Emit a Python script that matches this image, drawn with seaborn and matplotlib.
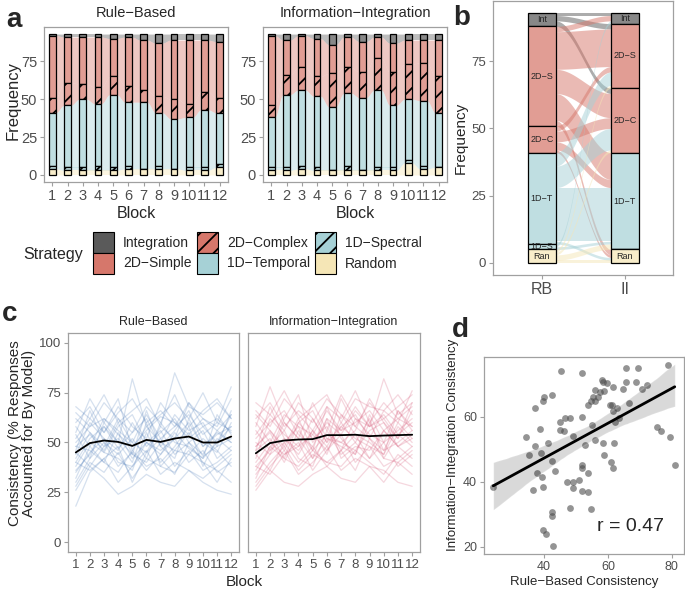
import numpy as np
import pandas as pd
import matplotlib
matplotlib.use("Agg")
import matplotlib.pyplot as plt
from matplotlib.patches import Rectangle
import seaborn as sns

sns.set_theme(style="ticks")
plt.rcParams['font.family'] = ['Liberation Sans', 'DejaVu Sans']
plt.rcParams['hatch.linewidth'] = 1.3

W, H = 685, 589

# ---- data -------------------------------------------------------------
blocks = list(range(1, 13))
strat_labels = ["Integration", "2D\u2212Simple", "2D\u2212Complex",
                "1D\u2212Temporal", "1D\u2212Spectral", "Random"]
strat_short = ["Int", "2D\u2212S", "2D\u2212C", "1D\u2212T", "1D\u2212S", "Ran"]
strat_colors = ["#5A5A5A", "#D6776B", "#D6776B", "#A6D1D6", "#A6D1D6", "#F5E6B6"]
strat_hatch = [None, None, "//", None, "//", None]

# panel a: counts per block (stacking order top -> bottom)
rb_int = [1, 2, 2, 2, 3, 2, 4, 6, 4, 4, 4, 5]
rb_2ds = [41, 30, 31, 33, 25, 32, 33, 35, 39, 42, 34, 37]
rb_2dc = [10, 15, 10, 11, 12, 11, 8, 11, 13, 9, 12, 10]
rb_1dt = [35, 41, 45, 41, 48, 42, 44, 35, 33, 33, 38, 34]
rb_1ds = [2, 2, 2, 3, 2, 2, 0, 2, 0, 2, 2, 2]
rb_ran = [4, 3, 3, 3, 3, 4, 4, 4, 4, 3, 3, 5]

ii_int = [1, 4, 1, 3, 7, 2, 5, 2, 6, 4, 4, 4]
ii_2ds = [46, 23, 21, 25, 19, 20, 20, 14, 19, 16, 15, 24]
ii_2dc = [8, 13, 15, 13, 22, 17, 17, 21, 22, 23, 25, 24]
ii_1dt = [33, 48, 50, 47, 42, 48, 48, 51, 41, 40, 43, 36]
ii_1ds = [2, 2, 2, 2, 0, 3, 0, 2, 2, 2, 2, 0]
ii_ran = [3, 3, 4, 3, 3, 3, 3, 3, 3, 8, 4, 5]

# panel b: RB strategy (rows) -> II strategy (cols), order Int,2DS,2DC,1DT,1DS,Ran
trans_int = [1, 2, 2, 0, 0, 0]
trans_2ds = [2, 14, 9, 10, 0, 2]
trans_2dc = [0, 2, 4, 3, 0, 1]
trans_1dt = [0, 5, 8, 20, 0, 1]
trans_1ds = [1, 0, 0, 1, 0, 0]
trans_ran = [0, 1, 1, 2, 0, 1]

# panel c: consistency per block
rb_mean = [45, 49.7, 51, 50.3, 48.3, 51.3, 50.3, 52, 53, 50, 50, 53]
ii_mean = [44.6, 49.7, 51, 51.5, 51.7, 53.7, 53.7, 53.9, 53.2, 53.5, 53.7, 53.9]
rb_subjects = [
    [42, 55, 48, 62, 50, 45, 58, 52, 60, 48, 55, 50],
    [35, 45, 52, 40, 38, 50, 44, 55, 47, 42, 50, 58],
    [60, 68, 55, 65, 72, 60, 66, 58, 70, 62, 56, 64],
    [28, 40, 35, 45, 32, 42, 38, 35, 44, 40, 30, 42],
    [50, 58, 62, 54, 48, 56, 63, 60, 52, 58, 62, 55],
    [45, 38, 48, 52, 44, 40, 50, 46, 55, 43, 48, 52],
    [55, 72, 60, 50, 82, 58, 64, 70, 62, 75, 60, 78],
    [40, 52, 58, 47, 55, 62, 48, 56, 66, 50, 45, 60],
    [18, 35, 42, 30, 38, 46, 34, 40, 36, 32, 38, 44],
    [65, 58, 70, 62, 55, 68, 60, 74, 58, 66, 72, 62],
    [48, 46, 40, 55, 42, 50, 56, 44, 50, 56, 42, 48],
    [38, 50, 45, 42, 36, 55, 40, 48, 58, 38, 52, 46],
    [52, 62, 55, 68, 58, 52, 70, 60, 54, 62, 58, 72],
    [30, 42, 50, 38, 45, 36, 44, 52, 40, 46, 35, 40],
    [58, 48, 62, 56, 50, 64, 52, 58, 64, 54, 60, 56],
    [44, 60, 52, 46, 60, 48, 55, 62, 50, 44, 56, 50],
    [62, 55, 45, 58, 64, 50, 46, 52, 70, 58, 50, 64],
    [36, 44, 58, 50, 40, 60, 38, 46, 44, 52, 46, 38],
    [46, 66, 50, 44, 52, 42, 60, 50, 48, 42, 64, 54],
    [54, 42, 60, 72, 46, 58, 50, 64, 56, 60, 48, 66],
    [40, 36, 42, 48, 30, 45, 52, 38, 46, 36, 40, 46],
    [68, 62, 74, 60, 66, 72, 58, 85, 68, 64, 70, 62],
    [32, 48, 40, 35, 46, 38, 42, 34, 50, 40, 36, 30],
    [48, 54, 46, 60, 44, 66, 48, 42, 62, 48, 54, 58],
    [26, 38, 32, 24, 28, 34, 30, 28, 36, 30, 26, 24],
]
ii_subjects = [
    [48, 55, 42, 60, 52, 58, 46, 62, 54, 50, 66, 58],
    [38, 46, 52, 44, 56, 48, 60, 50, 42, 56, 48, 52],
    [62, 70, 58, 66, 60, 72, 64, 58, 70, 62, 68, 74],
    [30, 40, 48, 36, 44, 40, 38, 46, 40, 34, 44, 38],
    [52, 60, 66, 54, 48, 62, 56, 68, 58, 64, 54, 60],
    [44, 36, 50, 58, 42, 52, 48, 44, 60, 46, 50, 56],
    [58, 78, 60, 52, 70, 56, 74, 62, 58, 82, 64, 70],
    [40, 50, 44, 48, 54, 46, 58, 52, 48, 44, 58, 50],
    [28, 38, 46, 34, 40, 48, 36, 42, 38, 30, 40, 46],
    [66, 58, 72, 64, 56, 68, 62, 76, 60, 70, 62, 68],
    [46, 52, 40, 56, 46, 54, 50, 46, 56, 60, 48, 54],
    [36, 48, 56, 42, 38, 56, 44, 50, 62, 42, 54, 48],
    [54, 64, 56, 70, 62, 50, 72, 58, 52, 66, 60, 76],
    [34, 44, 50, 40, 48, 38, 46, 54, 42, 50, 38, 44],
    [60, 50, 64, 58, 54, 66, 56, 60, 66, 56, 62, 58],
    [42, 62, 54, 48, 62, 50, 58, 64, 52, 46, 60, 52],
    [64, 56, 46, 60, 66, 52, 50, 56, 72, 60, 52, 66],
    [50, 44, 60, 52, 42, 62, 42, 48, 46, 56, 48, 42],
    [46, 68, 52, 46, 56, 44, 64, 54, 50, 44, 66, 56],
    [56, 46, 62, 74, 50, 60, 54, 66, 58, 62, 52, 70],
    [38, 34, 44, 50, 36, 46, 54, 40, 48, 38, 42, 48],
    [70, 64, 76, 62, 68, 74, 60, 72, 68, 66, 74, 64],
    [32, 48, 42, 38, 46, 40, 46, 36, 52, 42, 40, 34],
    [48, 56, 48, 62, 46, 68, 52, 44, 64, 50, 56, 62],
    [26, 36, 30, 28, 34, 38, 32, 30, 38, 36, 30, 28],
]

# panel d: per-subject consistency
rb_cons = [24.1, 45.3, 51.8, 37.3, 39.7, 40.1, 42.4, 46.4, 48.2, 45.1, 45.0, 46.1,
           38.6, 34.5, 49.0, 51.8, 37.3, 41.2, 35.2, 39.0, 42.6, 43.4, 37.8, 39.3,
           51.8, 51.8, 47.2, 49.0, 51.0, 36.6, 39.7, 49.0, 51.8, 42.4, 42.4, 48.2,
           39.7, 40.5, 42.7,
           65.5, 69.3, 78.9, 58.2, 58.4, 59.6, 65.5, 68.7, 72.1, 61.7, 64.8, 70.5,
           55.8, 57.4, 58.9, 55.3, 56.9, 56.0, 54.6, 53.6, 60.5, 61.2, 66.7, 62.7,
           61.5, 62.2, 63.6, 54.9, 75.4, 76.6, 79.4, 52.9, 55.8, 58.3, 61.9, 58.8,
           60.9, 61.7, 80.9, 53.9, 53.9, 54.6]
ii_cons = [38.5, 74.2, 73.6, 62.8, 64.8, 66.0, 66.7, 59.7, 59.7, 58.5, 55.8, 55.5,
           56.1, 53.8, 54.0, 60.0, 51.1, 51.8, 48.2, 49.0, 46.3, 43.2, 42.7, 41.5,
           45.1, 44.3, 40.0, 40.0, 40.7, 37.4, 38.5, 38.0, 37.1, 30.8, 29.4, 32.0,
           25.1, 24.1, 20.4,
           75.0, 75.0, 76.0, 71.3, 70.6, 70.4, 70.8, 70.8, 69.8, 69.3, 68.7, 68.6,
           68.1, 67.5, 68.0, 66.0, 66.0, 65.0, 64.8, 63.5, 63.7, 63.5, 64.3, 62.8,
           61.7, 58.3, 59.7, 57.6, 56.8, 55.6, 53.8, 51.2, 53.0, 51.9, 51.9, 48.4,
           46.1, 44.3, 45.3, 42.8, 36.8, 31.6]


# ---- helpers ------------------------------------------------------------
def px(l, t, r, b):
    return [l / W, 1 - b / H, (r - l) / W, (b - t) / H]


def lighten(c, a=0.72):
    rgb = np.array(matplotlib.colors.to_rgb(c))
    return tuple(rgb * a + (1 - a))


def style(ax, size=10):
    for s in ax.spines.values():
        s.set_color("#A0A0A0")
        s.set_linewidth(0.9)
    ax.tick_params(colors="#A0A0A0", labelcolor="#4D4D4D", length=3, width=0.8,
                   labelsize=size, pad=2)
    ax.set_xlabel("")
    ax.set_ylabel("")


def smooth(n=40):
    t = np.linspace(0, 1, n)
    return t, (1 - np.cos(np.pi * t)) / 2


def alluvial(ax, counts, w=0.45):
    arr = np.array(counts, dtype=float)       # 6 x 12, top->bottom
    tops = 93 - np.vstack([np.zeros(arr.shape[1]), np.cumsum(arr, axis=0)[:-1]])
    bots = tops - arr
    t, s = smooth()
    for j in range(arr.shape[1] - 1):
        x0, x1 = blocks[j] + w / 2, blocks[j + 1] - w / 2
        xs = x0 + (x1 - x0) * t
        for k in range(6):
            lo = bots[k, j] + (bots[k, j + 1] - bots[k, j]) * s
            hi = tops[k, j] + (tops[k, j + 1] - tops[k, j]) * s
            ax.fill_between(xs, lo, hi, color=strat_colors[k], alpha=0.4, lw=0)
    for k in range(6):
        ax.bar(blocks, arr[k], bottom=bots[k], width=w, color=lighten(strat_colors[k]),
               edgecolor="black", linewidth=0.9, hatch=strat_hatch[k])
    ax.set_xlim(0.45, 12.55)
    ax.set_ylim(-4.65, 97.65)
    ax.set_xticks(blocks)
    ax.set_yticks([0, 25, 50, 75])
    style(ax, 10.5)


fig = plt.figure(figsize=(W / 100, H / 100), dpi=100)

# ---- panel a --------------------------------------------------------------
a1 = fig.add_axes(px(44, 27, 228, 182))
alluvial(a1, [rb_int, rb_2ds, rb_2dc, rb_1dt, rb_1ds, rb_ran])
a2 = fig.add_axes(px(263, 27, 447, 182))
alluvial(a2, [ii_int, ii_2ds, ii_2dc, ii_1dt, ii_1ds, ii_ran])

# ---- panel b --------------------------------------------------------------
b = fig.add_axes(px(493, 1, 673, 275))
T = np.array([trans_int, trans_2ds, trans_2dc, trans_1dt, trans_1ds, trans_ran], dtype=float)
rb_tot, ii_tot = T.sum(axis=1), T.sum(axis=0)
rb_top = 93 - np.concatenate([[0], np.cumsum(rb_tot)[:-1]])
ii_top = 93 - np.concatenate([[0], np.cumsum(ii_tot)[:-1]])
bw = 0.33
t, s = smooth()
xs = (1 + bw / 2) + (1 - bw) * t
# incoming position on II side ordered by source
ii_start = np.zeros((6, 6))
for jj in range(6):
    cur = ii_top[jj]
    for ii in range(6):
        ii_start[ii, jj] = cur
        cur -= T[ii, jj]
for ii in range(6):
    cur = rb_top[ii]
    for jj in range(6):
        n = T[ii, jj]
        if n == 0:
            continue
        hi = cur + (ii_start[ii, jj] - cur) * s
        b.fill_between(xs, hi - n, hi, color=strat_colors[ii], alpha=0.5, lw=0)
        cur -= n
for k in range(6):
    b.bar([1, 2], [rb_tot[k], ii_tot[k]], bottom=[rb_top[k] - rb_tot[k], ii_top[k] - ii_tot[k]],
          width=bw, color=lighten(strat_colors[k]), edgecolor="black", linewidth=0.9)
    for xpos, tot, top in [(1, rb_tot[k], rb_top[k]), (2, ii_tot[k], ii_top[k])]:
        if tot > 0:
            b.text(xpos, top - tot / 2, strat_short[k], ha="center", va="center", fontsize=6.5)
b.set_xlim(0.41, 2.58)
b.set_ylim(-4.5, 97.4)
b.set_xticks([1, 2])
b.set_xticklabels(["RB", "II"])
b.set_yticks([0, 25, 50, 75])
style(b, 9.5)
b.tick_params(axis="x", labelsize=11.5)

# ---- panel c --------------------------------------------------------------
def consistency(ax, subjects, mean, color):
    df = pd.DataFrame([(i, blk, v) for i, row in enumerate(subjects)
                       for blk, v in zip(blocks, row)],
                      columns=["subject", "block", "consistency"])
    sns.lineplot(data=df, x="block", y="consistency", units="subject", estimator=None,
                 color=color, alpha=0.25, lw=0.9, ax=ax)
    sns.lineplot(x=blocks, y=mean, color="black", lw=1.3, ax=ax)
    ax.set_xlim(0.45, 12.55)
    ax.set_ylim(-5, 105)
    ax.set_xticks(blocks)
    ax.set_yticks([0, 25, 50, 75, 100])
    style(ax, 9.5)


c1 = fig.add_axes(px(68, 333, 239, 552))
consistency(c1, rb_subjects, rb_mean, "#5B86BF")
c2 = fig.add_axes(px(248, 333, 420, 552))
consistency(c2, ii_subjects, ii_mean, "#D9607E")
c2.set_yticks([])

# ---- panel d --------------------------------------------------------------
d = fig.add_axes(px(484, 357, 684, 554))
sns.regplot(x=rb_cons, y=ii_cons, ax=d, color="black", ci=95,
            scatter_kws=dict(s=24, color="#4D4D4D", alpha=0.6, linewidths=0),
            line_kws=dict(color="black", lw=2))
d.set_xlim(21.2, 83.8)
d.set_ylim(17.8, 78.4)
d.set_xticks([40, 60, 80])
d.set_yticks([20, 40, 60])
style(d, 9)
d.text(0.9, 0.14, "r = 0.47", transform=d.transAxes, ha="right", va="center", fontsize=14)

# ---- overlay: titles, labels, legend ------------------------------------------
ov = fig.add_axes([0, 0, 1, 1])
ov.set_xlim(0, W)
ov.set_ylim(H, 0)
ov.axis("off")

for x, y, lab in [(14, 20, "a"), (462, 18, "b"), (10, 314, "c"), (460, 330, "d")]:
    ov.text(x, y, lab, fontsize=20, fontweight="bold", ha="center", va="center")

ov.text(136, 13, "Rule\u2212Based", fontsize=10.5, ha="center", va="center")
ov.text(355, 13, "Information\u2212Integration", fontsize=10.5, ha="center", va="center")
ov.text(136, 213, "Block", fontsize=11.5, ha="center", va="center")
ov.text(355, 213, "Block", fontsize=11.5, ha="center", va="center")
ov.text(13, 100, "Frequency", fontsize=12, rotation=90, ha="center", va="center")
ov.text(461, 138, "Frequency", fontsize=11, rotation=90, ha="center", va="center")

ov.text(153, 322, "Rule\u2212Based", fontsize=9, ha="center", va="center")
ov.text(334, 322, "Information\u2212Integration", fontsize=9, ha="center", va="center")
ov.text(244, 582, "Block", fontsize=11, ha="center", va="center")
ov.text(22, 433, "Consistency (% Responses\nAccounted for By Model)", fontsize=11,
        rotation=90, ha="center", va="center", linespacing=1.0)

ov.text(584, 582, "Rule\u2212Based Consistency", fontsize=9.5, ha="center", va="center")
ov.text(453, 445, "Information\u2212Integration Consistency", fontsize=9.5,
        rotation=90, ha="center", va="center")

# legend
ov.text(53, 254, "Strategy", fontsize=11.5, ha="center", va="center")
legend_pos = [(93, 232), (93, 253), (197, 232), (197, 253), (315, 232), (315, 253)]
for k, (lx, ly) in enumerate(legend_pos):
    ov.add_patch(Rectangle((lx, ly), 21, 21, facecolor=strat_colors[k], edgecolor="black",
                           linewidth=0.8, hatch=strat_hatch[k]))
    ov.text(lx + 30, ly + 10.5, strat_labels[k], fontsize=10, ha="left", va="center")

fig.savefig("out.png", dpi=100)
